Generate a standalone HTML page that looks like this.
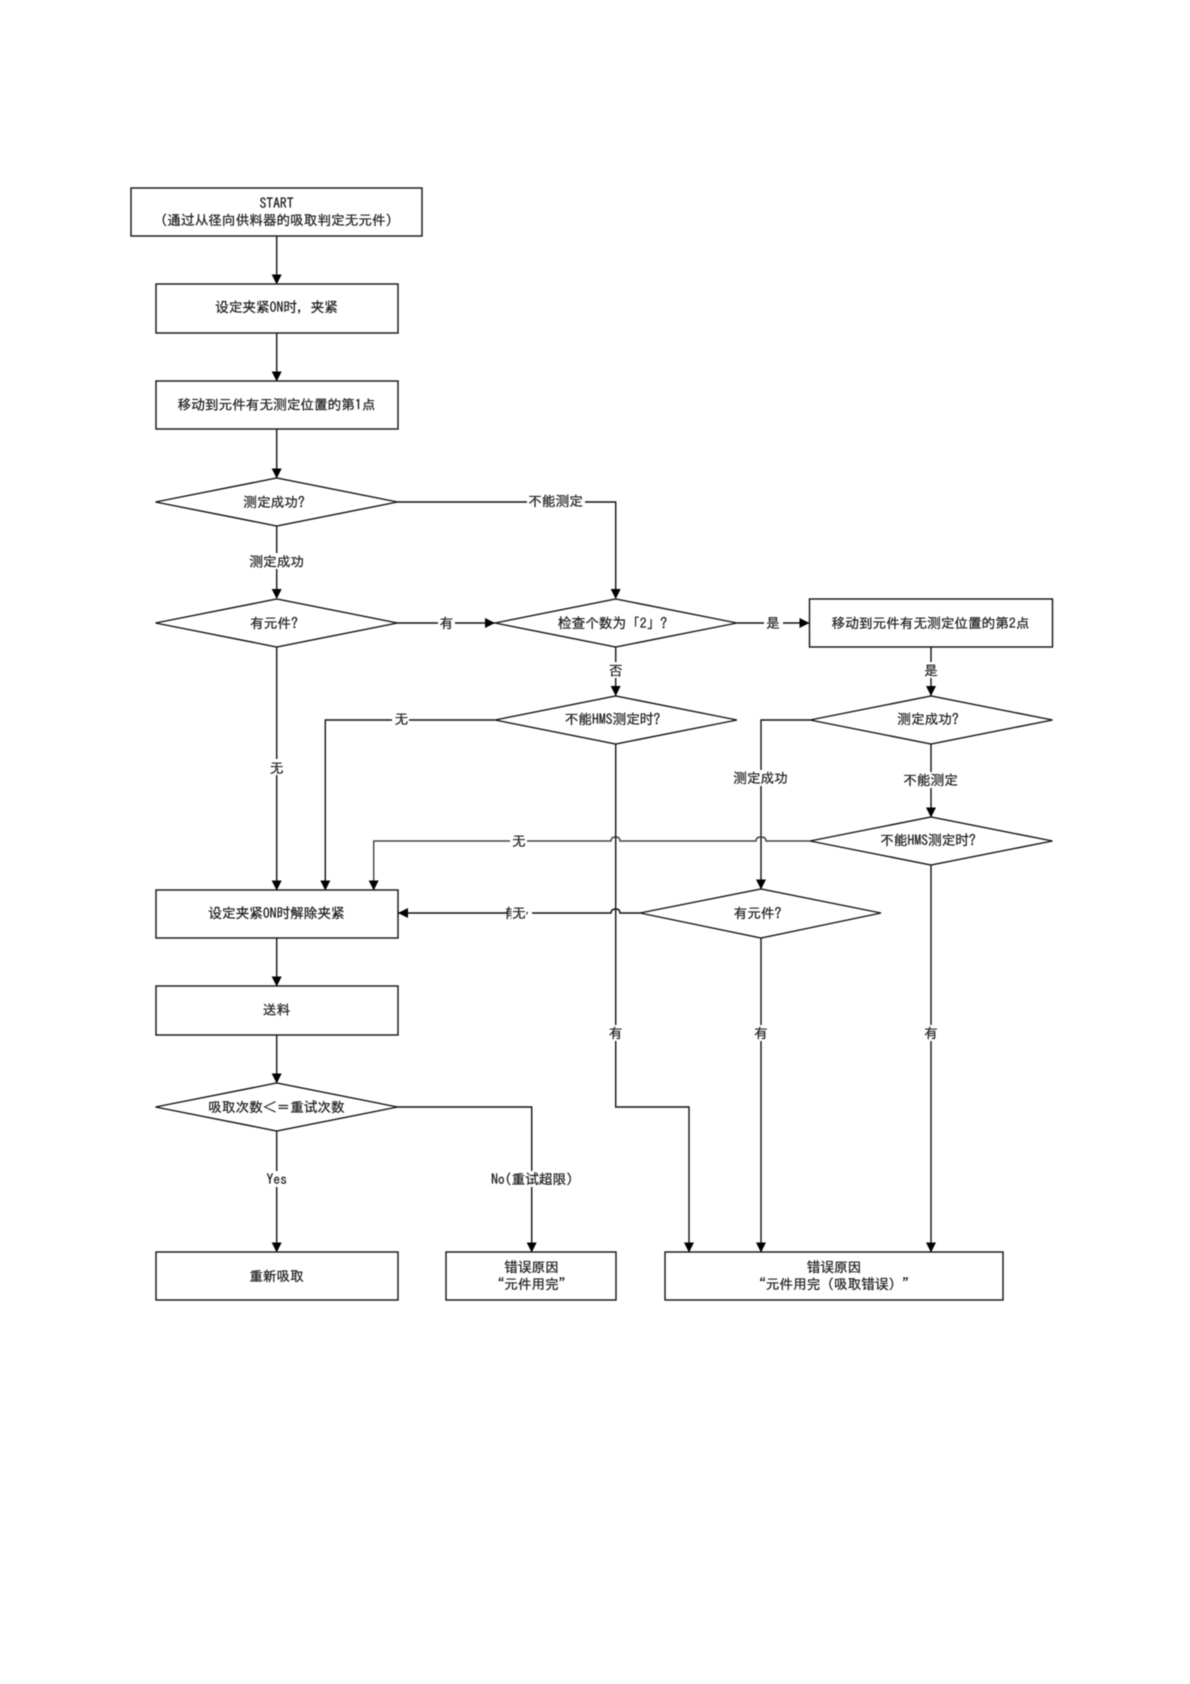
<!DOCTYPE html>
<html><head><meta charset="utf-8"><style>
html,body{margin:0;padding:0;background:#fff}
svg{display:block;filter:blur(0.4px)}
text{font-family:"IPAGothic","Noto Sans CJK SC",sans-serif;font-size:13.65px;fill:#1a1a1a;stroke:#1a1a1a;stroke-width:.22;text-anchor:middle;dominant-baseline:central}
.s{fill:#fff;stroke:#111;stroke-width:1.4}
.l{fill:none;stroke:#111;stroke-width:1.4}
.a{fill:#000;stroke:none}
.b{fill:#fff;stroke:none}
</style></head><body>
<svg width="1190" height="1684" viewBox="0 0 1190 1684" xmlns="http://www.w3.org/2000/svg">
<defs><clipPath id="c"><rect x="506" y="905" width="5.500" height="16"/></clipPath></defs>
<!-- connectors -->
<path class="l" d="M276.700 236V284M276.700 333V381M276.700 429V478M276.700 526V590M276.700 647V890M276.700 938V986M276.700 1035V1083M276.700 1131V1252"/>
<path class="l" d="M397 502H615.700V598M397 623H495M737 623H809M615.700 647V696M931 647V696M931 744V817"/>
<path class="l" d="M495 720H325.300V890M810 720H761V889"/>
<path class="l" style="stroke:#444" d="M810 841H766Q766 837 761 837Q756 837 756 841H620Q620 837 615.700 837Q611 837 611 841H373.700V890"/>
<path class="l" d="M640 913H620Q620 909 615.700 909Q611 909 611 913H398"/>
<path class="l" d="M615.700 744V1107H689V1252M761 938V1252M931 865V1252M397 1107H531.700V1252"/>
<!-- arrowheads -->
<g class="a">
<path d="M271.700 274.500L281.700 274.500L276.700 284.500Z"/><path d="M271.700 371.500L281.700 371.500L276.700 381.500Z"/><path d="M271.700 468.500L281.700 468.500L276.700 478.500Z"/>
<path d="M271.700 589L281.700 589L276.700 599Z"/><path d="M271.700 880.500L281.700 880.500L276.700 890.500Z"/><path d="M271.700 976.500L281.700 976.500L276.700 986.500Z"/>
<path d="M271.700 1073.500L281.700 1073.500L276.700 1083.500Z"/><path d="M271.700 1242.500L281.700 1242.500L276.700 1252.500Z"/>
<path d="M320.300 880.500L330.300 880.500L325.300 890.500Z"/><path d="M368.700 880.500L378.700 880.500L373.700 890.500Z"/>
<path d="M610.700 589L620.700 589L615.700 599Z"/><path d="M610.700 686L620.700 686L615.700 696Z"/>
<path d="M926 686L936 686L931 696Z"/><path d="M926 807.500L936 807.500L931 817.500Z"/>
<path d="M756 879.500L766 879.500L761 889.500Z"/>
<path d="M526.700 1242.500L536.700 1242.500L531.700 1252.500Z"/><path d="M684 1242.500L694 1242.500L689 1252.500Z"/><path d="M756 1242.500L766 1242.500L761 1252.500Z"/><path d="M926 1242.500L936 1242.500L931 1252.500Z"/>
<path d="M485 618L485 628L495 623Z"/><path d="M799.500 618L799.500 628L809.500 623Z"/><path d="M408 908L408 918L398 913Z"/>
</g>
<!-- boxes -->
<rect class="s" x="131" y="188" width="291" height="48"/>
<rect class="s" x="156" y="284" width="242" height="49"/>
<rect class="s" x="156" y="381" width="242" height="48"/>
<rect class="s" x="809.500" y="599" width="243" height="48"/>
<rect class="s" x="156" y="890" width="242" height="48"/>
<rect class="s" x="156" y="986" width="242" height="49"/>
<rect class="s" x="156" y="1252" width="242" height="48"/>
<rect class="s" x="446" y="1252" width="170" height="48"/>
<rect class="s" x="665" y="1252" width="338" height="48"/>
<!-- diamonds -->
<polygon class="s" points="155.500,502 276.700,478 397.500,502 276.700,526"/>
<polygon class="s" points="155.500,623 276.700,599 397.500,623 276.700,647"/>
<polygon class="s" points="495,623 615.700,599 737,623 615.700,647"/>
<polygon class="s" points="495,720 615.700,696 737,720 615.700,744"/>
<polygon class="s" points="810,720 931,696 1052.500,720 931,744"/>
<polygon class="s" points="810,841 931,817 1052.500,841 931,865"/>
<polygon class="s" points="640,913 761,889 881,913 761,938"/>
<polygon class="s" points="155.500,1107 276.700,1083 397.500,1107 276.700,1131"/>
<!-- label backgrounds -->
<g class="b">
<rect x="527" y="494" width="58" height="16"/><rect x="247" y="553" width="60" height="16"/>
<rect x="438" y="615" width="17" height="16"/><rect x="764" y="615" width="19" height="16"/>
<rect x="607" y="662" width="17" height="16"/><rect x="922" y="662" width="18" height="16"/>
<rect x="392" y="712" width="17" height="16"/><rect x="268" y="759" width="17" height="16"/>
<rect x="733" y="770" width="56" height="16"/><rect x="901" y="772" width="59" height="16"/>
<rect x="510" y="833" width="17" height="16"/><rect x="506" y="905" width="26" height="16"/>
<rect x="607" y="1025" width="17" height="16"/><rect x="752" y="1025" width="17" height="16"/><rect x="922" y="1025" width="17" height="16"/>
<rect x="264" y="1171" width="26" height="16"/><rect x="490" y="1171" width="84" height="16"/>
</g>
<!-- node text -->
<text x="276.500" y="203">START</text>
<text x="276.500" y="220">（通过从径向供料器的吸取判定无元件）</text>
<text x="276.500" y="307">设定夹紧ON时，夹紧</text>
<text x="276.500" y="404.500">移动到元件有无测定位置的第1点</text>
<text x="274" y="502">测定成功?</text>
<text x="274" y="623">有元件?</text>
<text x="612.500" y="623">检查个数为「2」?</text>
<text x="930.500" y="623">移动到元件有无测定位置的第2点</text>
<text x="612.500" y="719">不能HMS测定时?</text>
<text x="928" y="719">测定成功?</text>
<text x="928" y="840">不能HMS测定时?</text>
<text x="757.500" y="913">有元件?</text>
<text x="276.500" y="913">设定夹紧ON时解除夹紧</text>
<text x="276.500" y="1009.500">送料</text>
<text x="276.500" y="1107">吸取次数＜＝重试次数</text>
<text x="276.500" y="1276">重新吸取</text>
<text x="531.500" y="1267">错误原因</text>
<text x="531.500" y="1284">“元件用完”</text>
<text x="834" y="1267">错误原因</text>
<text x="834" y="1284">“元件用完（吸取错误）”</text>
<!-- connector labels -->
<text x="555.500" y="501">不能测定</text>
<text x="276.700" y="561.500">测定成功</text>
<text x="446.500" y="623">有</text>
<text x="773" y="623">是</text>
<text x="615.700" y="670.500">否</text>
<text x="931" y="670.500">是</text>
<text x="401.500" y="719">无</text>
<text x="276.700" y="768">无</text>
<text x="760.500" y="778">测定成功</text>
<text x="930.500" y="780">不能测定</text>
<text x="519" y="841">无</text>
<text x="510" y="913" clip-path="url(#c)">有</text>
<text x="519" y="913">无</text>
<text x="528" y="911" style="font-size:9px">,</text>
<text x="615.700" y="1033">有</text>
<text x="761" y="1033">有</text>
<text x="931" y="1033">有</text>
<text x="276.700" y="1179">Yes</text>
<text x="532" y="1179">No(重试超限)</text>
</svg>
</body></html>
